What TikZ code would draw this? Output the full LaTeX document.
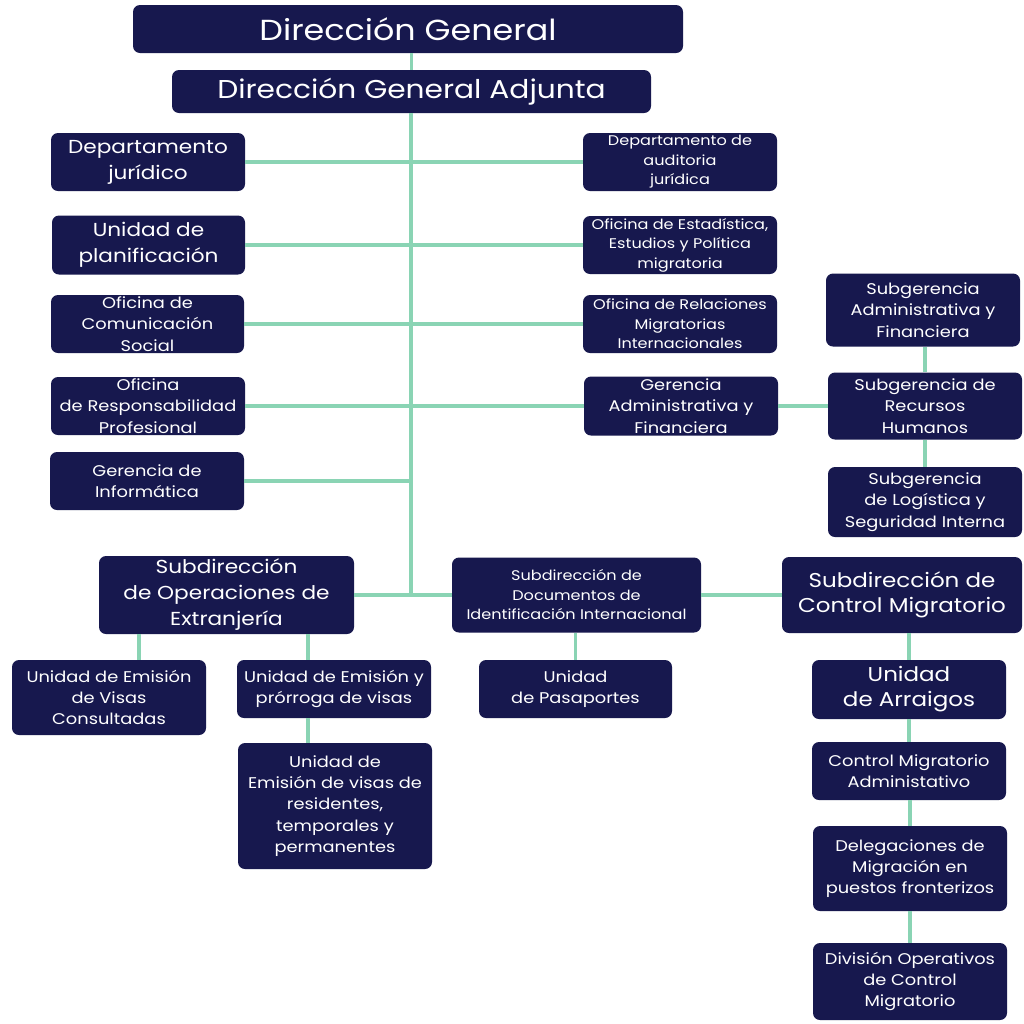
\documentclass[tikz,border=0pt]{standalone}
\usepackage{fontspec}
\setmainfont{Poppins}[FakeStretch=1.15]
\definecolor{navy}{HTML}{17184E}
\definecolor{mint}{HTML}{8AD4B4}

\begin{document}
\begin{tikzpicture}[x=1pt,y=-1pt]
\tikzset{box/.style 2 args={fill=navy, text=white, rounded corners=7pt, align=center,
    inner sep=0pt, minimum width=#1, minimum height=#2},
  f28/.style={font=\fontsize{29}{34}\selectfont},
  f24/.style={font=\fontsize{25.8}{30}\selectfont},
  f19/.style={font=\fontsize{20}{25}\selectfont},
  f18/.style={font=\fontsize{18.8}{26}\selectfont},
  f15/.style={font=\fontsize{15.5}{21.3}\selectfont},
  f13/.style={font=\fontsize{14}{19.5}\selectfont},
  link/.style={draw=mint, line width=3.5pt}}
\fill[white] (0,0) rectangle (1024,1023);
\useasboundingbox (0,0) rectangle (1024,1023);

% top
\node[box={550pt}{48pt}, f28] (dg) at (408,29) {Dirección General};
\node[box={479pt}{43pt}, f24] (dga) at (411.5,91.5) {Dirección General Adjunta};
\coordinate (spine) at (411,595);

% left column
\node[box={194pt}{58pt}, f18] (dj) at (148,162) {Departamento\\jurídico};
\node[box={193pt}{59pt}, f18] (up) at (148.5,245) {Unidad de\\planificación};
\node[box={193pt}{58pt}, f15] (ocs) at (147.5,324) {Oficina de\\Comunicación\\Social};
\node[box={194pt}{58pt}, f15] (orp) at (148,406) {Oficina\\de Responsabilidad\\Profesional};
\node[box={194pt}{58pt}, f15] (gi) at (147,481) {Gerencia de\\Informática};

% right column
\node[box={194pt}{58pt}, f13] (da) at (680,162) {Departamento de\\auditoria\\jurídica};
\node[box={194pt}{58pt}, f13] (oe) at (680,245) {Oficina de Estadística,\\Estudios y Política\\migratoria};
\node[box={194pt}{58pt}, f13] (ori) at (680,324) {Oficina de Relaciones\\Migratorias\\Internacionales};
\node[box={194pt}{59pt}, f15] (ga) at (681,406) {Gerencia\\Administrativa y\\Financiera};
\node[box={194pt}{73pt}, f15] (sgaf) at (923,310) {Subgerencia\\Administrativa y\\Financiera};
\node[box={194pt}{67pt}, f15] (sgrh) at (925,406) {Subgerencia de\\Recursos\\Humanos};
\node[box={194pt}{70pt}, f15] (sgl) at (925,502) {Subgerencia\\de Logística y\\Seguridad Interna};

% subdirecciones
\node[box={255pt}{78pt}, f18] (sops) at (226.5,595) {Subdirección\\de Operaciones de\\Extranjería};
\node[box={249pt}{75pt}, f13] (sdoc) at (576.5,595) {Subdirección de\\Documentos de\\Identificación Internacional};
\node[box={240pt}{76pt}, f19] (sctl) at (902,595) {Subdirección de\\Control Migratorio};

% units
\node[box={194pt}{75pt}, f15] (uvc) at (109,697.5) {Unidad de Emisión\\de Visas\\Consultadas};
\node[box={194pt}{58pt}, f15] (upr) at (334,689) {Unidad de Emisión y\\prórroga de visas};
\node[box={194pt}{126pt}, f15] (ures) at (335,806) {Unidad de\\Emisión de visas de\\residentes,\\temporales y\\permanentes};
\node[box={193pt}{58pt}, f15] (upa) at (575.5,689) {Unidad\\de Pasaportes};
\node[box={194pt}{59pt}, f19] (uar) at (909,689.5) {Unidad\\de Arraigos};
\node[box={194pt}{58pt}, f15] (cma) at (909,771) {Control Migratorio\\Administativo};
\node[box={194pt}{85pt}, f15] (dmp) at (910,868.5) {Delegaciones de\\Migración en\\puestos fronterizos};
\node[box={194pt}{77pt}, f15] (dop) at (910,981.5) {División Operativos\\de Control\\Migratorio};

% connectors
\draw[link] (dg.south -| dga) -- (dga.north);
\draw[link] (dga.south -| spine) -- (spine);
\foreach \from/\to in {dj/da,up/oe,ocs/ori,orp/ga,ga/sgrh,sops/sdoc,sdoc/sctl}
{
	\draw[link] (\from.east) -- (\to.west);
}
\draw[link] (gi.east) -- (gi.east -| spine);
\foreach \from/\to in {sgaf/sgrh,sgrh/sgl,sdoc/upa,uar/cma,cma/dmp,dmp/dop}
{
	\draw[link] (\from.south -| \to) -- (\to.north);
}
\draw[link] (sctl.south -| uar) -- (uar.north);
\draw[link] ([xshift=30pt]uvc.north |- sops.south) -- ([xshift=30pt]uvc.north);
\draw[link] ([xshift=-26pt]upr.north |- sops.south) -- ([xshift=-26pt]upr.north);
\draw[link] ([xshift=-26pt]upr.south) -- ([xshift=-26pt]upr.south |- ures.north);
\end{tikzpicture}
\end{document}
